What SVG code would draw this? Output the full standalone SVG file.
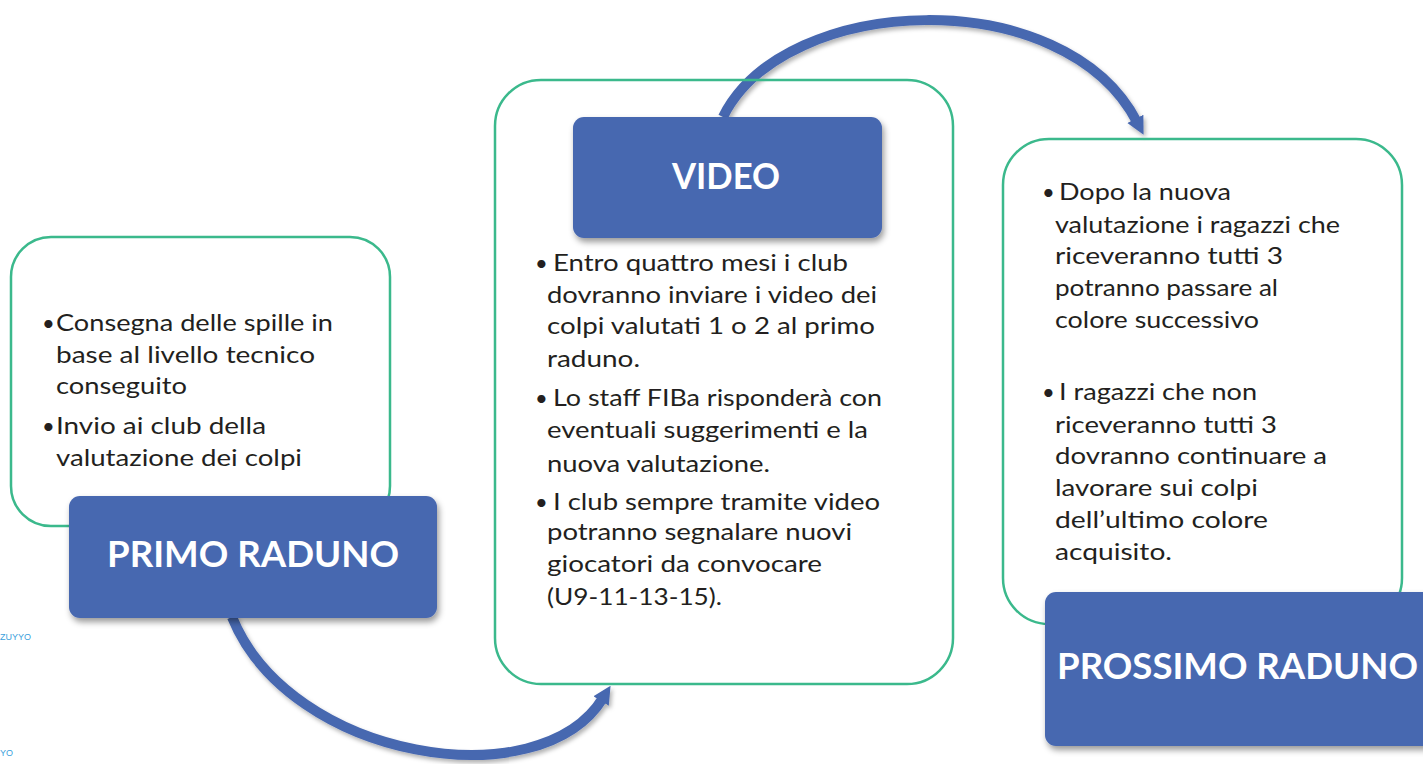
<svg xmlns="http://www.w3.org/2000/svg" width="1423" height="764" viewBox="0 0 1423 764">
<style>
.card{fill:none;stroke:#3bb98c;stroke-width:2.5}
.head{fill:#4767b0;filter:url(#sh)}
.ttl{font-family:Lato,"Liberation Sans",sans-serif;font-weight:bold;font-size:36px;fill:#ffffff}
.txt{font-family:Lato,"Liberation Sans",sans-serif;font-size:24px;fill:#231f20}
.bul{font-family:Lato,"Liberation Sans",sans-serif;font-size:22px;fill:#231f20}
.arc{fill:none;stroke:#4767b0;stroke-width:10;marker-end:url(#ah);filter:url(#sh2)}
.logo{font-family:"Liberation Sans",sans-serif;font-size:9px;fill:#3a9fdc}
</style>
<defs>
<filter id="sh" x="-10%" y="-10%" width="125%" height="135%">
<feDropShadow dx="2" dy="4" stdDeviation="3" flood-color="#000" flood-opacity="0.4"/>
</filter>
<filter id="sh2" x="-10%" y="-10%" width="125%" height="135%">
<feDropShadow dx="2" dy="3" stdDeviation="2" flood-color="#000" flood-opacity="0.3"/>
</filter>
<marker id="ah" viewBox="0 0 10 10" refX="2" refY="5" markerWidth="1.8" markerHeight="2.4" orient="auto" markerUnits="strokeWidth">
<path d="M0,0 L10,5 L0,10 z" fill="#4767b0"/>
</marker>
</defs>
<rect width="1423" height="764" fill="#ffffff"/>
<g id="connectors">
<path class="arc" d="M232,617 C290,760 540,800 603,698"/>
<path class="arc" d="M723,117 C785,-8 1065,-18 1137,122"/>
</g>
<g id="logo">
<text class="logo" x="0" y="640">ZUYYO</text>
<text class="logo" x="0" y="756">YO</text>
</g>
<g id="node-primo">
<rect class="card" x="11" y="237" width="379" height="289" rx="40"/>
<text class="bul" x="42" y="331">•</text>
<text class="txt" x="56" y="331" textLength="277" lengthAdjust="spacingAndGlyphs">Consegna delle spille in</text>
<text class="txt" x="56" y="363" textLength="259" lengthAdjust="spacingAndGlyphs">base al livello tecnico</text>
<text class="txt" x="56" y="394" textLength="131" lengthAdjust="spacingAndGlyphs">conseguito</text>
<text class="bul" x="42" y="434">•</text>
<text class="txt" x="56" y="434" textLength="210" lengthAdjust="spacingAndGlyphs">Invio ai club della</text>
<text class="txt" x="56" y="466" textLength="246" lengthAdjust="spacingAndGlyphs">valutazione dei colpi</text>
<rect class="head" x="69" y="496" width="368" height="122" rx="11"/>
<text class="ttl" x="107" y="567" textLength="292" lengthAdjust="spacingAndGlyphs">PRIMO RADUNO</text>
</g>
<g id="node-video">
<rect class="card" x="495" y="80" width="458" height="604" rx="46"/>
<rect class="head" x="573" y="117" width="309" height="121" rx="11"/>
<text class="ttl" x="672" y="189" textLength="108" lengthAdjust="spacingAndGlyphs">VIDEO</text>
<text class="bul" x="535" y="271">•</text>
<text class="txt" x="553" y="271" textLength="295" lengthAdjust="spacingAndGlyphs">Entro quattro mesi i club</text>
<text class="txt" x="547" y="303" textLength="330" lengthAdjust="spacingAndGlyphs">dovranno inviare i video dei</text>
<text class="txt" x="547" y="334" textLength="328" lengthAdjust="spacingAndGlyphs">colpi valutati 1 o 2 al primo</text>
<text class="txt" x="547" y="367" textLength="93" lengthAdjust="spacingAndGlyphs">raduno.</text>
<text class="bul" x="535" y="406">•</text>
<text class="txt" x="553" y="406" textLength="329" lengthAdjust="spacingAndGlyphs">Lo staff FIBa risponderà con</text>
<text class="txt" x="547" y="438" textLength="321" lengthAdjust="spacingAndGlyphs">eventuali suggerimenti e la</text>
<text class="txt" x="547" y="472" textLength="223" lengthAdjust="spacingAndGlyphs">nuova valutazione.</text>
<text class="bul" x="535" y="510">•</text>
<text class="txt" x="553" y="510" textLength="327" lengthAdjust="spacingAndGlyphs">I club sempre tramite video</text>
<text class="txt" x="547" y="540" textLength="305" lengthAdjust="spacingAndGlyphs">potranno segnalare nuovi</text>
<text class="txt" x="547" y="572" textLength="275" lengthAdjust="spacingAndGlyphs">giocatori da convocare</text>
<text class="txt" x="547" y="605" textLength="175" lengthAdjust="spacingAndGlyphs">(U9-11-13-15).</text>
</g>
<g id="node-prossimo">
<rect class="card" x="1003" y="139" width="399" height="485" rx="46"/>
<text class="bul" x="1042" y="200">•</text>
<text class="txt" x="1059" y="200" textLength="172" lengthAdjust="spacingAndGlyphs">Dopo la nuova</text>
<text class="txt" x="1055" y="233" textLength="285" lengthAdjust="spacingAndGlyphs">valutazione i ragazzi che</text>
<text class="txt" x="1055" y="264" textLength="228" lengthAdjust="spacingAndGlyphs">riceveranno tutti 3</text>
<text class="txt" x="1055" y="296" textLength="223" lengthAdjust="spacingAndGlyphs">potranno passare al</text>
<text class="txt" x="1055" y="328" textLength="204" lengthAdjust="spacingAndGlyphs">colore successivo</text>
<text class="bul" x="1042" y="400">•</text>
<text class="txt" x="1059" y="400" textLength="198" lengthAdjust="spacingAndGlyphs">I ragazzi che non</text>
<text class="txt" x="1055" y="433" textLength="222" lengthAdjust="spacingAndGlyphs">riceveranno tutti 3</text>
<text class="txt" x="1055" y="464" textLength="272" lengthAdjust="spacingAndGlyphs">dovranno continuare a</text>
<text class="txt" x="1055" y="496" textLength="203" lengthAdjust="spacingAndGlyphs">lavorare sui colpi</text>
<text class="txt" x="1055" y="528" textLength="213" lengthAdjust="spacingAndGlyphs">dell’ultimo colore</text>
<text class="txt" x="1055" y="560" textLength="117" lengthAdjust="spacingAndGlyphs">acquisito.</text>
<rect class="head" x="1045" y="592" width="390" height="154" rx="11"/>
<text class="ttl" x="1057" y="679" textLength="361" lengthAdjust="spacingAndGlyphs">PROSSIMO RADUNO</text>
</g>
</svg>
